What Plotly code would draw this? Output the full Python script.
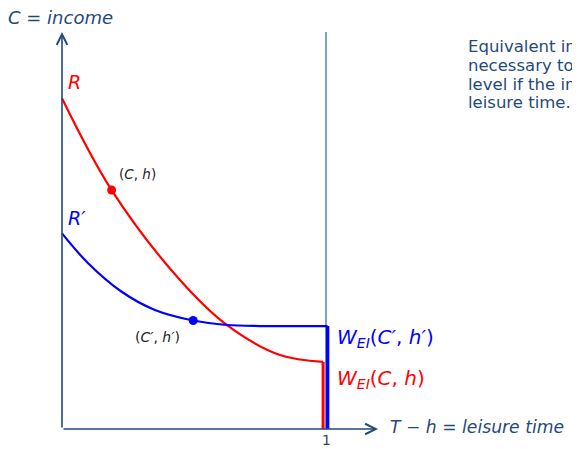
import plotly.graph_objects as go

# Curve R (red): leisure time (x) vs income (y)
red_x = [0, 0.188, 0.447, 0.624, 0.826, 0.989]
red_y = [1.253, 0.905, 0.564, 0.394, 0.280, 0.254]
# Curve R' (blue)
blue_x = [0, 0.098, 0.226, 0.352, 0.497, 0.624, 0.75, 0.88, 1.006]
blue_y = [0.741, 0.629, 0.520, 0.451, 0.411, 0.394, 0.390, 0.390, 0.390]
# Equivalent-income verticals
red_wx = [0.989, 0.989]
red_wy = [0.254, 0.0]
blue_wx = [1.006, 1.006]
blue_wy = [0.390, 0.0]
# Points
pt_ch = (0.188, 0.905)
pt_ch2 = (0.497, 0.411)
# Frame
x_full = 1.0
y_top = 1.504
x_arrow = 1.197
tick_vals = [1]
tick_text = ["1"]
note_lines = ["Equivalent income is the income",
              "necessary to reach the same welfare",
              "level if the individual has full",
              "leisure time."]

NAVY = "#1f4a7c"
FONT = "DejaVu Sans"
OFF = 8  # page body margin
W, H = 580 - OFF, 449 - OFF
SCALE = 264.0

fig = go.Figure()

fig.add_trace(go.Scatter(x=[x_full, x_full], y=[0, y_top], mode="lines",
                         line=dict(color="#2b62a0", width=1.2), hoverinfo="skip"))
fig.add_trace(go.Scatter(x=red_x, y=red_y, mode="lines", line=dict(color="#ff0000", width=2.2, shape="spline"),
                         hoverinfo="skip"))
fig.add_trace(go.Scatter(x=blue_x, y=blue_y, mode="lines", line=dict(color="#0000ff", width=2.2, shape="spline"),
                         hoverinfo="skip"))
fig.add_trace(go.Scatter(x=red_wx, y=red_wy, mode="lines", line=dict(color="#ff0000", width=3),
                         hoverinfo="skip"))
fig.add_trace(go.Scatter(x=blue_wx, y=blue_wy, mode="lines", line=dict(color="#0000ff", width=3.5),
                         hoverinfo="skip"))
fig.add_trace(go.Scatter(x=[pt_ch[0]], y=[pt_ch[1]], mode="markers",
                         marker=dict(color="#ff0000", size=9), hoverinfo="skip"))
fig.add_trace(go.Scatter(x=[pt_ch2[0]], y=[pt_ch2[1]], mode="markers",
                         marker=dict(color="#0000ff", size=9), hoverinfo="skip"))

# axes arrows
fig.add_annotation(x=x_arrow, y=0, ax=0, ay=0, xref="x", yref="y", axref="x", ayref="y",
                   showarrow=True, arrowhead=5, arrowsize=1.3, arrowwidth=1.6, arrowcolor=NAVY, text="")
fig.add_annotation(x=0, y=y_top, ax=0, ay=0, xref="x", yref="y", axref="x", ayref="y",
                   showarrow=True, arrowhead=5, arrowsize=1.3, arrowwidth=1.6, arrowcolor=NAVY, text="")

# tick label on the leisure axis
for tv, tt in zip(tick_vals, tick_text):
    fig.add_annotation(x=tv, y=0, xref="x", yref="y", text=tt, showarrow=False,
                       xanchor="center", yanchor="top", yshift=-1,
                       font=dict(family=FONT, size=14, color=NAVY))

def txt(xp, yp, s, color, size):
    fig.add_annotation(x=(xp - OFF) / W, y=1 - (yp - OFF) / H, xref="paper", yref="paper",
                       text=s, showarrow=False, xanchor="left", yanchor="middle", align="left",
                       font=dict(family=FONT, size=size, color=color))

txt(6, 17, "<i>C</i> = <i>income</i>", NAVY, 18)
txt(66, 82, "<i>R</i>", "#ff0000", 19)
txt(66, 218, "<i>R′</i>", "#0000ff", 19)
txt(117, 174, "(<i>C</i>, <i>h</i>)", "#222222", 13.5)
txt(133, 337, "(<i>C′</i>, <i>h′</i>)", "#222222", 14)
txt(335, 338, "<i>W<sub>EI</sub></i>(<i>C′</i>, <i>h′</i>)", "#0000ff", 20)
txt(335, 379, "<i>W<sub>EI</sub></i>(<i>C</i>, <i>h</i>)", "#ff0000", 20)
txt(388, 427, "<i>T</i> − <i>h</i> = <i>leisure time</i>", NAVY, 17.2)
for i, line in enumerate(note_lines):
    txt(466, 47 + i * 18.5, line, NAVY, 16.5)

x0 = -(62 - OFF) / SCALE
y0 = -(H - (429 - OFF)) / SCALE
fig.update_layout(
    width=W, height=H, margin=dict(l=0, r=0, t=0, b=0),
    paper_bgcolor="white", plot_bgcolor="white", showlegend=False,
    xaxis=dict(range=[x0, x0 + W / SCALE], showgrid=False, zeroline=False, showline=False,
               automargin=False, showticklabels=False),
    yaxis=dict(range=[y0, y0 + H / SCALE], showgrid=False, zeroline=False, showline=False,
               automargin=False, showticklabels=False),
)
fig.write_html("out.html")
